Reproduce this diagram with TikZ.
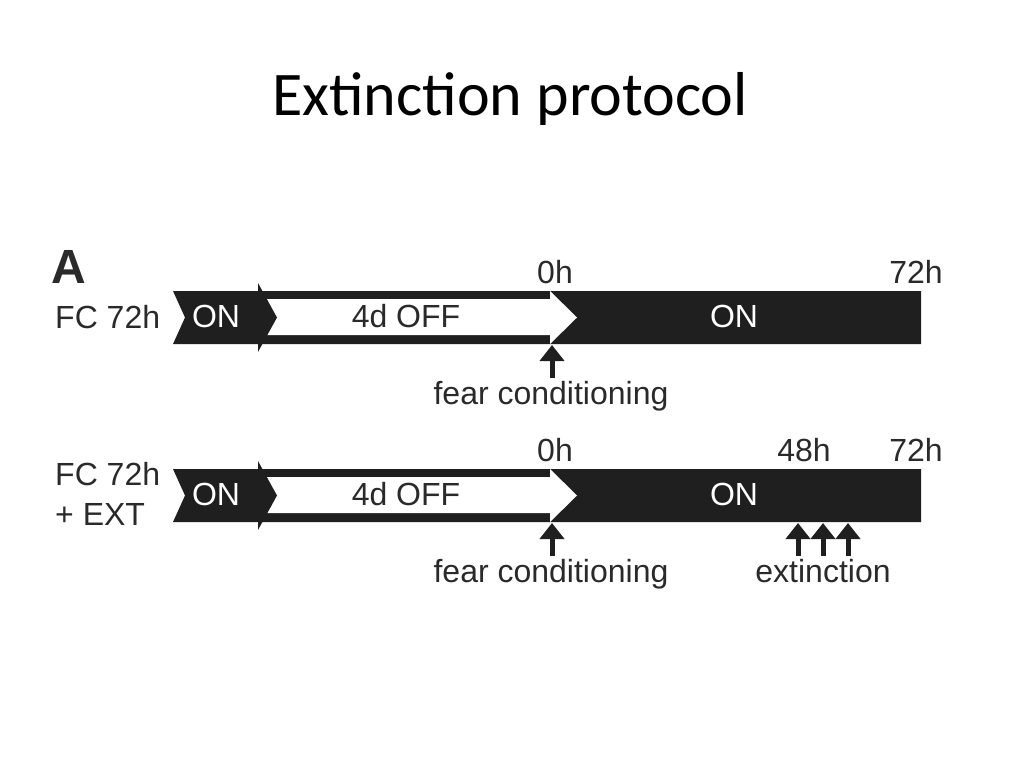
\documentclass[tikz,border=0pt]{standalone}
\usepackage{fontspec}
\setmainfont{Liberation Sans}
\newfontfamily\titlefont{Carlito}
\usetikzlibrary{arrows.meta}
\definecolor{barcol}{HTML}{1F1F1F}
\definecolor{txtcol}{HTML}{2A2A2A}
\begin{document}
\begin{tikzpicture}[x=1pt,y=-1pt,
  lbl/.style={font=\fontsize{32}{32}\selectfont, text=txtcol, inner sep=0pt, anchor=base},
  onlbl/.style={lbl, text=white},
  uparrow/.style={draw=barcol, line width=5pt, -{Triangle[width=24pt,length=16pt]}},
  barshape/.style={fill=barcol},
  offshape/.style={fill=white},
]
\useasboundingbox[fill=white] (0,0) rectangle (1024,768);

% title and panel letter
\node[font=\titlefont\fontsize{62}{62}\selectfont, anchor=base, inner sep=0pt] (title) at (510,115) {Extinction protocol};
\node[font=\bfseries\fontsize{48}{48}\selectfont, anchor=base west, inner sep=0pt, text=txtcol] (A) at (51,283) {A};

% ---------- row 1 ----------
\fill[barshape] (173,291) -- (921,291) -- (921,344) -- (173,344) -- (185,317.5) -- cycle;
\fill[offshape] (258,299) -- (550,299) -- (550,291) -- (577,317.5) -- (550,344) -- (550,335) -- (258,335) -- cycle;
\fill[barshape] (258,283) -- (277,317.5) -- (258,352) -- cycle;

\node[lbl, anchor=base west] (row1) at (55,328) {FC 72h};
\node[onlbl] (on1a) at (216,327) {ON};
\node[lbl] (off1) at (406,327) {4d OFF};
\node[onlbl] (on1b) at (734,327) {ON};
\node[lbl] (t01) at (555,283) {0h};
\node[lbl] (t721) at (916,283) {72h};

\node[lbl] (fc1) at (551,404) {fear conditioning};
\coordinate (fcTip1) at (552,345);
\draw[uparrow] ([yshift=3pt]fc1.north -| fcTip1) -- (fcTip1);

% ---------- row 2 ----------
\fill[barshape] (173,469) -- (921,469) -- (921,522) -- (173,522) -- (185,495.5) -- cycle;
\fill[offshape] (258,477) -- (550,477) -- (550,469) -- (577,495.5) -- (550,522) -- (550,513) -- (258,513) -- cycle;
\fill[barshape] (258,461) -- (277,495.5) -- (258,530) -- cycle;

\node[lbl, anchor=base west] (row2a) at (55,485) {FC 72h};
\node[lbl, anchor=base west] (row2b) at (55,525) {+ EXT};
\node[onlbl] (on2a) at (216,505) {ON};
\node[lbl] (off2) at (406,505) {4d OFF};
\node[onlbl] (on2b) at (734,505) {ON};
\node[lbl] (t02) at (555,461) {0h};
\node[lbl] (t482) at (804,461) {48h};
\node[lbl] (t722) at (916,461) {72h};

\node[lbl] (fc2) at (551,582) {fear conditioning};
\coordinate (fcTip2) at (552,523);
\draw[uparrow] ([yshift=3pt]fc2.north -| fcTip2) -- (fcTip2);

\node[lbl] (ext) at (823,582) {extinction};
\coordinate (exTip1) at (798,523);
\coordinate (exTip2) at (823,523);
\coordinate (exTip3) at (848,523);
\draw[uparrow] ([yshift=3pt]ext.north -| exTip1) -- (exTip1);
\draw[uparrow] ([yshift=3pt]ext.north -| exTip2) -- (exTip2);
\draw[uparrow] ([yshift=3pt]ext.north -| exTip3) -- (exTip3);
\end{tikzpicture}
\end{document}
